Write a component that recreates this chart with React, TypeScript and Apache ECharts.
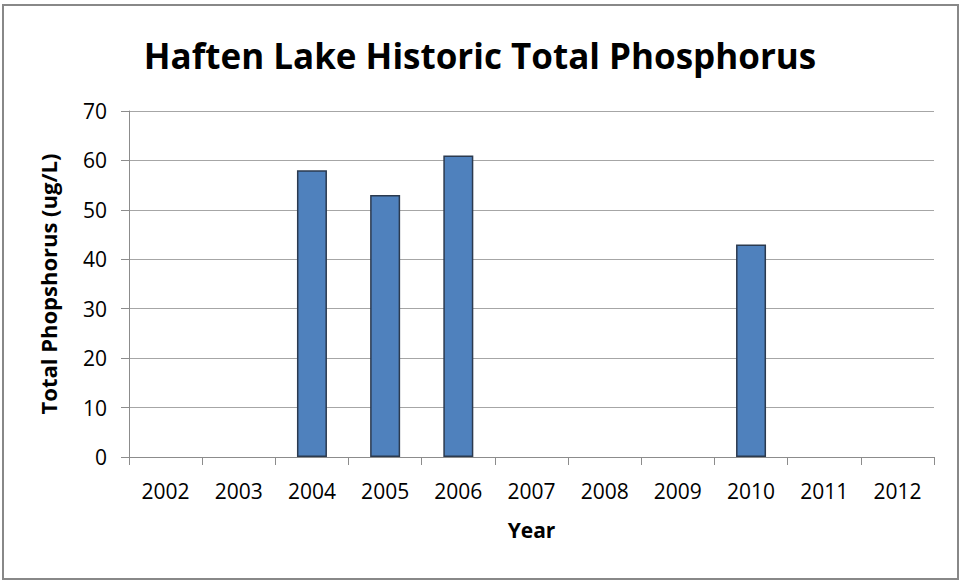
import React, { useEffect, useRef } from "react";
import * as echarts from "echarts";

const years = ["2002", "2003", "2004", "2005", "2006", "2007", "2008", "2009", "2010", "2011", "2012"];
const phosphorus: (number | null)[] = [null, null, 58, 53, 61, null, null, null, 43, null, null];
const yTicks = { min: 0, max: 70, interval: 10 };

const FONT = "'Open Sans', 'Liberation Sans', sans-serif";

export default function App() {
  const ref = useRef<HTMLDivElement>(null);
  useEffect(() => {
    document.body.style.margin = "0";
    const chart = echarts.init(ref.current!, undefined, { renderer: "svg" });
    chart.setOption({
      animation: false,
      backgroundColor: "#ffffff",
      title: {
        text: "Haften Lake Historic Total Phosphorus",
        left: "center",
        top: 33,
        textStyle: { fontFamily: FONT, fontSize: 35, fontWeight: "bold", color: "#000" },
      },
      graphic: [
        {
          type: "rect",
          shape: { x: 3, y: 5, width: 955, height: 574 },
          style: { fill: "none", stroke: "#888888", lineWidth: 2 },
          silent: true,
        },
      ],
      grid: { left: 129, right: 26, top: 111, bottom: 124, containLabel: false },
      xAxis: {
        type: "category",
        data: years,
        name: "Year",
        nameLocation: "middle",
        nameGap: 62,
        nameTextStyle: { fontFamily: FONT, fontSize: 21, fontWeight: "bold", color: "#000" },
        axisLine: { lineStyle: { color: "#8c8c8c", width: 1 } },
        axisTick: { show: true, length: 8, alignWithLabel: false, lineStyle: { color: "#8c8c8c" } },
        axisLabel: { fontFamily: FONT, fontSize: 21, color: "#000", margin: 23 },
      },
      yAxis: {
        type: "value",
        min: yTicks.min,
        max: yTicks.max,
        interval: yTicks.interval,
        name: "Total Phopshorus (ug/L)",
        nameLocation: "middle",
        nameGap: 70,
        nameTextStyle: { fontFamily: FONT, fontSize: 22, fontWeight: "bold", color: "#000" },
        axisLine: { show: true, lineStyle: { color: "#8c8c8c", width: 1 } },
        axisTick: { show: true, length: 8, lineStyle: { color: "#8c8c8c" } },
        axisLabel: { fontFamily: FONT, fontSize: 21, color: "#000", margin: 22 },
        splitLine: { lineStyle: { color: "#a6a6a6", width: 1 } },
      },
      series: [
        {
          type: "bar",
          data: phosphorus,
          barWidth: 30,
          itemStyle: { color: "#4f81bd", borderColor: "#2b3a4f", borderWidth: 1.5 },
        },
      ],
    });
    return () => chart.dispose();
  }, []);
  return <div ref={ref} style={{ width: 960, height: 581 }} />;
}
